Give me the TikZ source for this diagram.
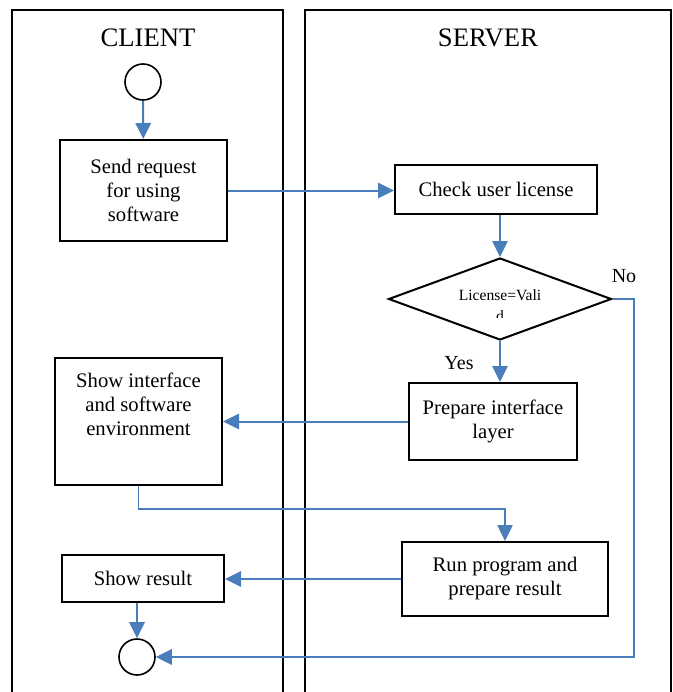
\documentclass[tikz,border=0pt]{standalone}
\usepackage{fontspec}
\setmainfont{Liberation Serif}
\usetikzlibrary{arrows.meta,shapes.geometric}

\definecolor{linkblue}{RGB}{74,126,187}

\tikzset{every picture/.style={line width=0.75pt}}
\tikzset{
  lanetitle/.style={inner sep=0.75pt,font=\fontsize{20}{24}\selectfont},
  flowbox/.style={draw,line width=1.5pt,rectangle,inner sep=0pt,align=center,font=\fontsize{15.5}{18}\selectfont},
  terminal/.style={draw,line width=1.2pt,circle,inner sep=0pt,minimum size=27pt},
  decision/.style={draw,line width=1.5pt,diamond,inner sep=0pt,aspect=2.7,minimum width=167.25pt,minimum height=61.5pt},
  flowarrow/.style={draw=linkblue,line width=1.5pt,-{Triangle[length=12pt,width=11.5pt]}},
  answer/.style={inner sep=0.75pt,font=\fontsize{15}{18}\selectfont}
}

\begin{document}
\begin{tikzpicture}[x=0.75pt,y=0.75pt,yscale=-1,xscale=1]
\useasboundingbox (0,0) rectangle (672,692);

%Swim lanes
\begin{scope}
\clip (0,0) rectangle (672,692);
\draw [line width=1.5pt] (12,700) -- (12,10) -- (283,10) -- (283,700) ;
\draw [line width=1.5pt] (305,700) -- (305,10) -- (670.5,10) -- (670.5,700) ;
\end{scope}

% Lane titles
\node [lanetitle] (client) at (148,38) {CLIENT};
\node [lanetitle] (server) at (488,38) {SERVER};

% Client side
\node [terminal] (start) at (143,82) {};
\node [flowbox,minimum width=125.25pt,minimum height=75.75pt] (send) at (143.5,190.5) {Send request\\for using\\software};
\node [flowbox,minimum width=125.25pt,minimum height=95.25pt] (showif) at (138.5,421.5) {};
\node [inner sep=0pt,align=center,font=\fontsize{15.5}{18}\selectfont,anchor=north] (showiftext) at (138.5,372) {Show interface\\and software\\environment};
\node [flowbox,minimum width=121.5pt,minimum height=35.25pt] (result) at (143,578.5) {Show result};
\node [terminal] (stop) at (137,657) {};

% Server side
\node [flowbox,minimum width=151.5pt,minimum height=36.75pt] (check) at (496,189.5) {Check user license};
\node [decision] (valid) at (500,299) {};
\begin{scope}
\clip (440,282) rectangle (560,317);
\node [inner sep=0pt,font=\fontsize{11.7}{12}\selectfont] (validtext) at (500,295) {License=Vali};
\node [inner sep=0pt,font=\fontsize{11.7}{12}\selectfont,anchor=north] (validtail) at (500,310.5) {d};
\end{scope}
\node [flowbox,minimum width=126pt,minimum height=57.75pt] (prep) at (493,421.5) {Prepare interface\\layer};
\node [flowbox,minimum width=154.5pt,minimum height=55.5pt] (run) at (505,579) {Run program and\\prepare result};

% Answers
\node [answer] (no) at (624,276) {No};
\node [answer] (yes) at (459,363) {Yes};

% Connectors
\draw [flowarrow] (start) -- (send);
\draw [flowarrow] (send.east) -- (send.east -| check.west);
\draw [flowarrow] (valid.north |- check.south) -- (valid.north);
\draw [flowarrow] (valid.south) -- (valid.south |- prep.north);
\draw [flowarrow] (valid.east) -- ++(21,0) |- (stop.east);
\draw [flowarrow] (prep.west) -- (prep.west -| showif.east);
\draw [flowarrow,line width=1pt] (showif.south) -- ++(0,23) -| (run.north);
\draw [flowarrow] (run.west) -- (run.west -| result.east);
\draw [flowarrow] (stop.north |- result.south) -- (stop.north);

\end{tikzpicture}
\end{document}
